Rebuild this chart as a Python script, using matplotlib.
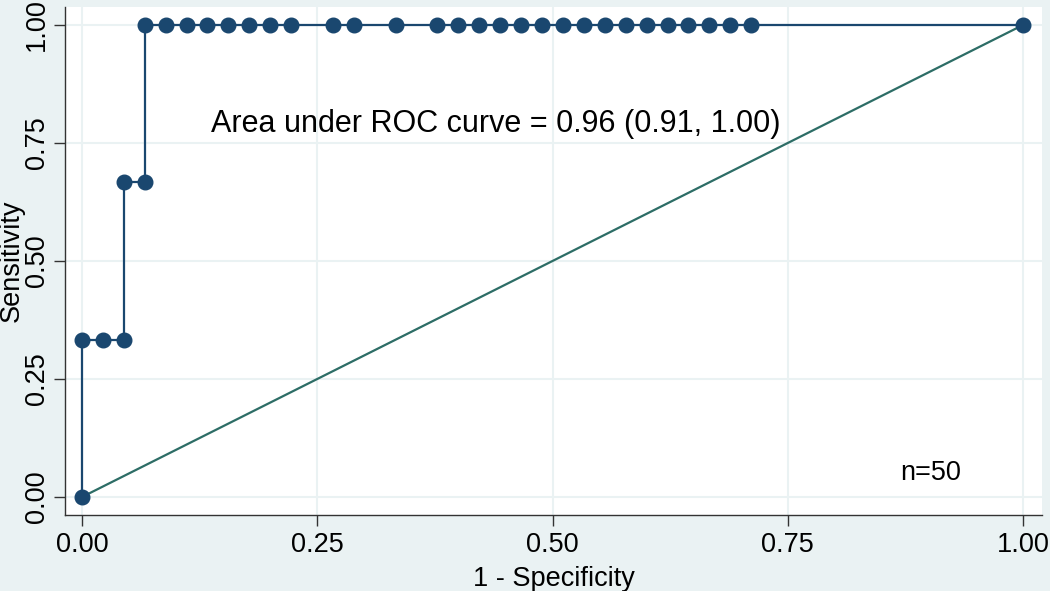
import matplotlib.pyplot as plt

plt.rcParams['font.family'] = ['Liberation Sans', 'DejaVu Sans']

# ROC points (1 - specificity, sensitivity)
fpr = [0, 0, 1/45, 2/45, 2/45, 3/45, 3/45, 4/45, 5/45, 6/45, 7/45, 8/45,
       9/45, 10/45, 12/45, 13/45, 15/45, 17/45, 18/45, 19/45, 20/45, 21/45,
       22/45, 23/45, 24/45, 25/45, 26/45, 27/45, 28/45, 29/45, 30/45, 31/45,
       32/45, 1.0]
tpr = [0, 1/3, 1/3, 1/3, 2/3, 2/3] + [1.0] * 28

ticks = [0, 0.25, 0.5, 0.75, 1.0]
tick_labels = ["0.00", "0.25", "0.50", "0.75", "1.00"]

navy = "#1A476F"
green = "#2D6D66"
bg = "#EAF2F3"

fig = plt.figure(figsize=(10.5, 5.91), dpi=100, facecolor=bg)
ax = fig.add_axes([65/1050, 1 - 515/591, (1042-65)/1050, (515-7)/591])
ax.set_facecolor("white")

ax.plot(fpr, tpr, color=navy, lw=1.6, marker="o", markersize=10.5,
        markeredgecolor=navy, markerfacecolor=navy, zorder=3)
ax.plot([0, 1], [0, 1], color=green, lw=1.6, zorder=2)

ax.set_xlim(-17/941, 1 + 19/941)
ax.set_ylim(-18/472, 1 + 18/472)
ax.set_xticks(ticks)
ax.set_xticklabels(tick_labels)
ax.set_yticks(ticks)
ax.set_yticklabels(tick_labels, rotation=90, va="center")
ax.tick_params(labelsize=19.5, length=8, width=1, color="#333333", pad=4)
ax.tick_params(axis="y", pad=3)
ax.grid(True, color=bg, lw=1.5)
ax.set_axisbelow(True)

for s in ["top", "right"]:
    ax.spines[s].set_visible(False)
for s in ["left", "bottom"]:
    ax.spines[s].set_color("#333333")
    ax.spines[s].set_linewidth(1)

ax.set_xlabel("1 - Specificity", fontsize=19.5, labelpad=6)
ax.yaxis.set_label_coords(-40/977, 0.5)
ax.set_ylabel("Sensitivity", fontsize=19.5)

ax.text(0.44, 0.79, "Area under ROC curve = 0.96 (0.91, 1.00)",
        fontsize=22, ha="center", va="center")
ax.text(0.902, 0.05, "n=50", fontsize=19.5, ha="center", va="center")

fig.savefig("out.png", dpi=100, facecolor=bg)
